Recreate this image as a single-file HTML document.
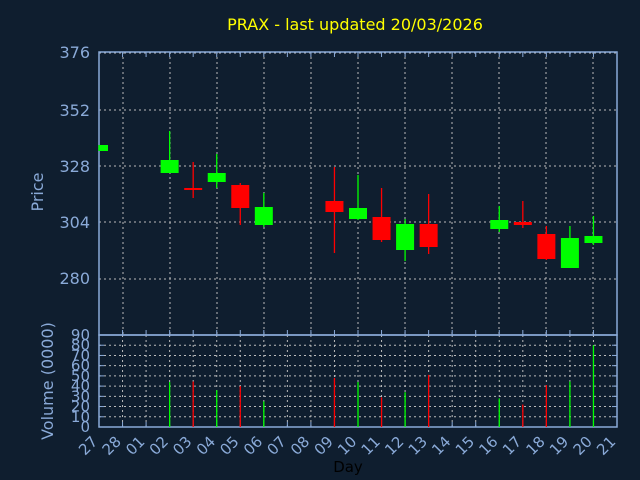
<!DOCTYPE html>
<html><head><meta charset="utf-8"><style>
html,body{margin:0;padding:0;background:#0f1e2f;}
svg{display:block;font-family:"DejaVu Sans","Liberation Sans",sans-serif;}
</style></head><body>
<svg width="640" height="480" viewBox="0 0 640 480" xmlns="http://www.w3.org/2000/svg">
<rect width="640" height="480" fill="#0f1e2f"/>
<text x="355" y="30" fill="#ffff00" font-size="16" text-anchor="middle">PRAX - last updated 20/03/2026</text>
<g stroke="#bbbbbb" stroke-dasharray="2,3" stroke-width="1">
<line x1="99" y1="53" x2="617" y2="53"/><line x1="99" y1="110" x2="617" y2="110"/><line x1="99" y1="166" x2="617" y2="166"/><line x1="99" y1="222" x2="617" y2="222"/><line x1="99" y1="279" x2="617" y2="279"/>
<line x1="123" y1="52" x2="123" y2="335"/><line x1="170" y1="52" x2="170" y2="335"/><line x1="217" y1="52" x2="217" y2="335"/><line x1="264" y1="52" x2="264" y2="335"/><line x1="311" y1="52" x2="311" y2="335"/><line x1="358" y1="52" x2="358" y2="335"/><line x1="405" y1="52" x2="405" y2="335"/><line x1="452" y1="52" x2="452" y2="335"/><line x1="499" y1="52" x2="499" y2="335"/><line x1="546" y1="52" x2="546" y2="335"/><line x1="593" y1="52" x2="593" y2="335"/>
</g>
<g stroke="#bbbbbb" stroke-dasharray="2,3" stroke-width="1" id="vg"></g>
<g fill="none" stroke="#8aaad8" stroke-width="1.5">
<rect x="99" y="52" width="518" height="283"/>
<rect x="99" y="335" width="518" height="92"/>
</g>
<g id="ticks" stroke="#8aaad8" stroke-width="1"></g>
<g id="cand"></g>
<g id="vol"></g>
<g fill="#8aaad8" font-size="16" text-anchor="end">
<text x="90" y="58">376</text><text x="90" y="116">352</text><text x="90" y="172">328</text><text x="90" y="228">304</text><text x="90" y="284">280</text>
</g>
<g id="vl" fill="#8aaad8" font-size="15" text-anchor="end"></g>
<text transform="translate(43,192) rotate(-90)" fill="#8aaad8" font-size="16" text-anchor="middle">Price</text>
<text transform="translate(53,381) rotate(-90)" fill="#8aaad8" font-size="16" text-anchor="middle">Volume (0000)</text>
<g id="xl" fill="#8aaad8" font-size="15"></g>
<text x="348" y="472" fill="#000" font-size="15" text-anchor="middle">Day</text>
</svg>
<script>
var NS="http://www.w3.org/2000/svg";
function el(p,t,a,txt){var e=document.createElementNS(NS,t);for(var k in a)e.setAttribute(k,a[k]);if(txt!==undefined)e.textContent=txt;document.getElementById(p).appendChild(e);}
var W=518/22;function X(i){return 99+i*W;}
for(var v=0;v<=90;v+=10){var y=427-v*92/90;
 if(v>0&&v<90)el('vg','line',{x1:99,y1:y,x2:617,y2:y});
 el('vl','text',{x:90,y:y+5},String(v));
 el('ticks','line',{x1:99,y1:y,x2:104,y2:y});el('ticks','line',{x1:617,y1:y,x2:612,y2:y});}
var days=["27","28","01","02","03","04","05","06","07","08","09","10","11","12","13","14","15","16","17","18","19","20","21"];
for(var i=0;i<23;i++){var x=X(i);
 el('vg','line',{x1:x,y1:335,x2:x,y2:427});
 el('ticks','line',{x1:x,y1:335,x2:x,y2:330});el('ticks','line',{x1:x,y1:52,x2:x,y2:57});
 el('ticks','line',{x1:x,y1:427,x2:x,y2:422});
 el('xl','text',{x:0,y:0,transform:"translate("+(x-14)+",456) rotate(-45)"},days[i]);}
// candles: idx, wickTop, wickBot, bodyTop, bodyBot, green
var C=[[0,145,151,145,151,1],[3,131,173,160,173,1],[4,162,198,188,190,0],[5,154,188,173,182,1],[6,183,225,185,208,0],[7,193,227,207,225,1],
[10,167,253,201,212,0],[11,175,220,208,219,1],[12,188,242,217,240,0],[13,219,261,224,250,1],[14,194,254,224,247,0],
[17,206,232,220,229,1],[18,201,228,222,225,0],[19,226,260,234,259,0],[20,226,268,238,268,1],[21,216,245,236,243,1]];
C.forEach(function(c){var x=X(c[0]);var col=c[5]?"#00ff00":"#ff0000";
 el('cand','line',{x1:x,y1:c[1],x2:x,y2:c[2],stroke:col,"stroke-width":1.3});
 var x0=Math.max(99,x-9);el('cand','rect',{x:x0,y:c[3],width:x+9-x0,height:Math.max(2,c[4]-c[3]),fill:col});});
var V=[[3,44,1],[4,44.5,0],[5,36,1],[6,40,0],[7,25,1],[10,48,0],[11,44,1],[12,29,0],[13,34,1],[14,51,0],[17,28,1],[18,22,0],[19,41,0],[20,44.5,1],[21,80,1]];
V.forEach(function(v){var x=X(v[0]);el('vol','line',{x1:x,y1:427,x2:x,y2:427-v[1]*92/90,stroke:v[2]?"#00ff00":"#ff0000","stroke-width":1.3});});
</script>
</body></html>
